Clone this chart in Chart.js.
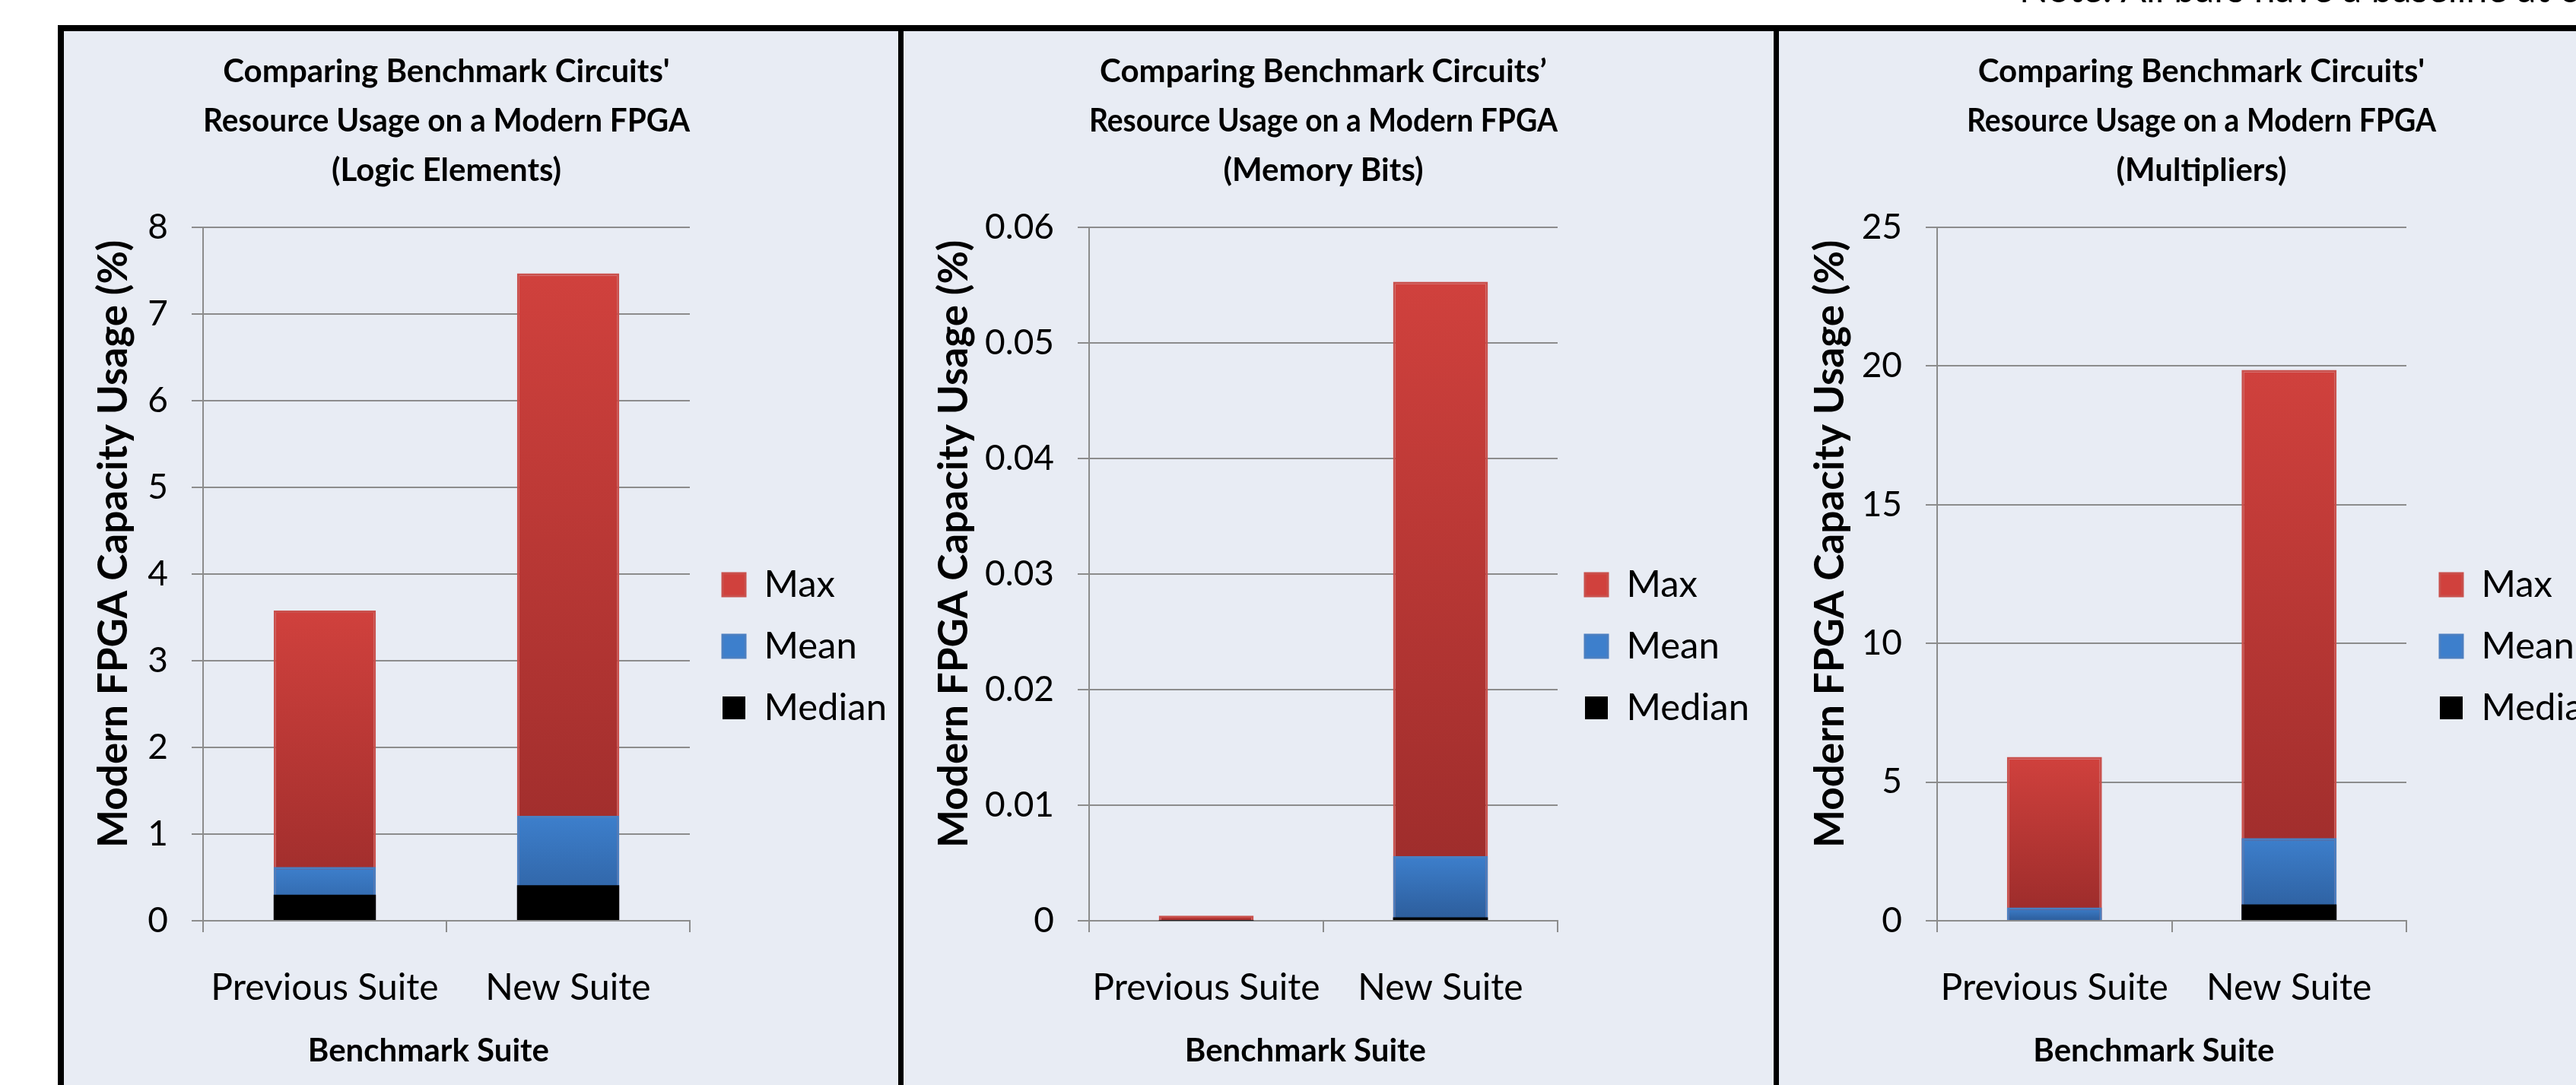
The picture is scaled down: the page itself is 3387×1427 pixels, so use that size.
<!DOCTYPE html>
<html>
<head>
<meta charset="utf-8">
<script src="https://cdn.jsdelivr.net/npm/chart.js@4.4.1/dist/chart.umd.min.js"></script>
<style>
  html, body { margin: 0; padding: 0; background: #fff; width: 3387px; height: 1427px; overflow: hidden; }
  #note { position: absolute; left: 2655px; top: -41px; font: 50px Lato, sans-serif; line-height: 50px; color: #000; white-space: nowrap; }
  #frame { position: absolute; left: 76px; top: 33px; width: 3400px; height: 1400px; background: #000; }
  .panel { position: absolute; top: 41px; height: 1386px; background: #E8ECF4; overflow: hidden; }
  canvas { display: block; }
</style>
</head>
<body>
<div id="note">Note: All bars have a baseline at 0</div>
<div id="frame"></div>
<div class="panel" style="left:84px;width:1097px"><canvas id="c1" width="1097" height="1386"></canvas></div>
<div class="panel" style="left:1188px;width:1144px"><canvas id="c2" width="1144" height="1386"></canvas></div>
<div class="panel" style="left:2339px;width:1048px"><canvas id="c3" width="1048" height="1386"></canvas></div>
<script>
// data
const categories = ['Previous Suite', 'New Suite'];
const seriesNames = ['Max', 'Mean', 'Median'];

const logicMax = [3.58, 7.47];
const logicMean = [0.62, 1.21];
const logicMedian = [0.30, 0.41];
const logicTicks = [0, 1, 2, 3, 4, 5, 6, 7, 8];

const memoryMax = [0.00045, 0.0553];
const memoryMean = [0.00004, 0.0056];
const memoryMedian = [0.00001, 0.0003];
const memoryTicks = [0, 0.01, 0.02, 0.03, 0.04, 0.05, 0.06];

const multMax = [5.91, 19.86];
const multMean = [0.48, 2.98];
const multMedian = [0, 0.59];
const multTicks = [0, 5, 10, 15, 20, 25];

const titleTop = ['Comparing Benchmark Circuits\'', 'Resource Usage on a Modern FPGA'];
const yTitle = 'Modern FPGA Capacity Usage (%)';
const xTitle = 'Benchmark Suite';

Chart.defaults.font.family = 'Lato, "Noto Sans", sans-serif';
Chart.defaults.color = '#000';

const GRID = '#8C8C8C';

// vertical gradient per bar, from its top down to the baseline
function barFill(top, bottom) {
    return (ctx) => {
        const chart = ctx.chart;
        if (ctx.type !== 'data' || !chart.chartArea) return bottom;
        const y = chart.scales.y;
        const g = chart.ctx.createLinearGradient(0, y.getPixelForValue(ctx.parsed.y), 0, y.getPixelForValue(0));
        g.addColorStop(0, top);
        g.addColorStop(1, bottom);
        return g;
    };
}

// fixed legend width and small offsets Chart.js has no option for
const nudge = {
    id: 'nudge',
    beforeLayout(chart, args, opts) {
        const lg = chart.legend;
        if (lg && !lg._fixedFit) {
            const fit = lg.fit.bind(lg);
            lg.fit = function () { fit(); this.width = opts.legendW; };
            lg._fixedFit = true;
        }
    },
    afterLayout(chart, args, opts) {
        if (opts.legendX) {
            chart.legend.left += opts.legendX;
            chart.legend.right += opts.legendX;
        }
        if (opts.titleX) {
            chart.titleBlock.left += opts.titleX;
            chart.titleBlock.right += opts.titleX;
        }
    }
};

function makeChart(id, p) {
    const ctx = document.getElementById(id).getContext('2d');
    return new Chart(ctx, {
        type: 'bar',
        data: {
            labels: categories,
            datasets: [
                {
                    label: seriesNames[0], data: p.max, order: 3,
                    backgroundColor: barFill('#D0413D', '#9A2B2A'),
                    borderColor: '#C9504C', borderWidth: 3
                },
                {
                    label: seriesNames[1], data: p.mean, order: 2,
                    backgroundColor: barFill('#3D7FCC', '#2C5C9A'),
                    borderColor: '#4A7FC1', borderWidth: 3
                },
                {
                    label: seriesNames[2], data: p.median, order: 1,
                    backgroundColor: '#000', borderWidth: 0
                }
            ]
        },
        options: {
            responsive: false,
            animation: false,
            layout: { padding: 0 },
            datasets: {
                bar: { grouped: false, categoryPercentage: 1, barPercentage: p.barPct }
            },
            plugins: {
                title: {
                    display: true,
                    fullSize: false,
                    text: p.title,
                    font: { size: 42, weight: 'bold', lineHeight: 65 / 42 },
                    padding: { top: 21, bottom: 42 }
                },
                legend: {
                    position: 'right',
                    align: 'center',
                    title: { display: true, text: ' ', font: { size: 10, lineHeight: 1 }, padding: { top: 111, bottom: 111 } },
                    labels: {
                        boxWidth: 30, boxHeight: 30, padding: 32,
                        font: { size: 49 },
                        sort: (a, b) => a.datasetIndex - b.datasetIndex
                    }
                },
                tooltip: { enabled: false },
                nudge: { legendW: p.legendW, legendX: p.legendX, titleX: p.titleX }
            },
            scales: {
                x: {
                    grid: { drawOnChartArea: false, offset: true, tickLength: 15, color: GRID, lineWidth: 2 },
                    border: { color: GRID, width: 2 },
                    ticks: { padding: 45, font: { size: 48 } },
                    title: {
                        display: true,
                        // trailing spaces move the centred title slightly left, as in the original
                        text: xTitle + '\u2002\u2002\u2009',
                        font: { size: 42, weight: 'bold' },
                        padding: { top: 0, bottom: 19 }
                    },
                    afterFit: (s) => { s.height = 216; }
                },
                y: {
                    min: p.ticks[0],
                    max: p.ticks[p.ticks.length - 1],
                    afterBuildTicks: (s) => { s.ticks = p.ticks.map((v) => ({ value: v })); },
                    grid: { color: GRID, lineWidth: 2, tickLength: 15 },
                    border: { color: GRID, width: 2 },
                    ticks: { padding: 31, font: { size: 46 }, callback: (v) => String(v) },
                    title: {
                        display: true,
                        // leading spaces lift the centred title a little, as in the original
                        text: '\u2002\u2002\u2002' + yTitle,
                        font: { size: 53, weight: 'bold' },
                        padding: { top: p.yTitlePad, bottom: 0 }
                    },
                    afterFit: (s) => { s.width = p.yWidth; }
                }
            }
        },
        plugins: [nudge]
    });
}

makeChart('c1', {
    title: [titleTop[0], titleTop[1], '(Logic Elements)'],
    max: logicMax, mean: logicMean, median: logicMedian, ticks: logicTicks,
    yWidth: 183, yTitlePad: 34, legendW: 1097 - 823, barPct: 0.42, legendX: 11, titleX: 0
});
makeChart('c2', {
    title: ['Comparing Benchmark Circuits’', titleTop[1], '(Memory Bits)'],
    max: memoryMax, mean: memoryMean, median: memoryMedian, ticks: memoryTicks,
    yWidth: 244, yTitlePad: 35, legendW: 1144 - 860, barPct: 0.405, legendX: 4, titleX: 0
});
makeChart('c3', {
    title: [titleTop[0], titleTop[1], '(Multipliers)'],
    max: multMax, mean: multMean, median: multMedian, ticks: multTicks,
    yWidth: 208, yTitlePad: 36, legendW: 1048 - 825, barPct: 0.405, legendX: 12, titleX: 39
});
</script>
</body>
</html>
